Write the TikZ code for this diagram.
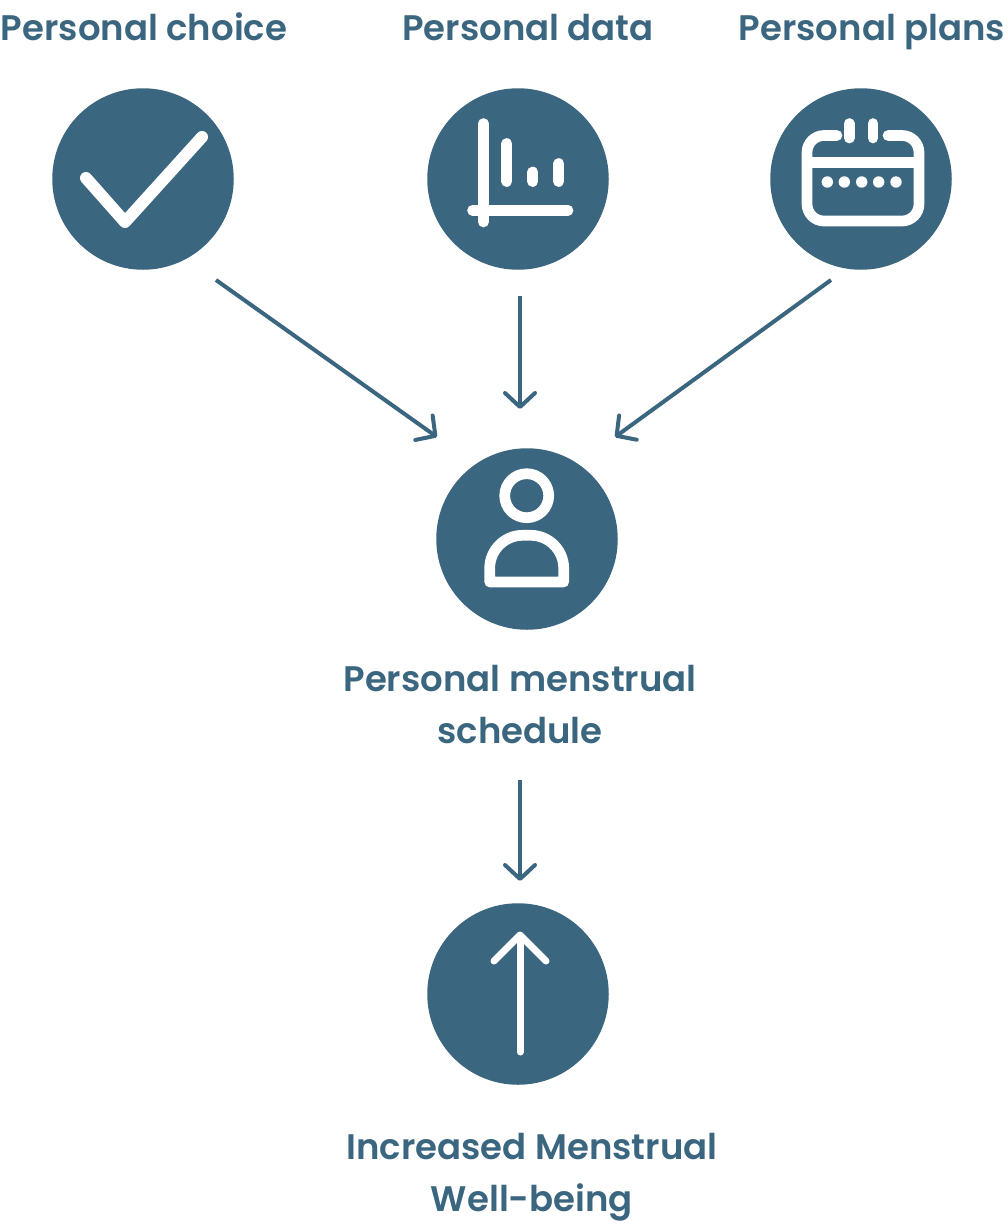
\documentclass[tikz,border=0pt]{standalone}
\usepackage{fontspec}
\setmainfont{Poppins SemiBold}
\usetikzlibrary{arrows.meta}
\definecolor{teal}{HTML}{3B667F}
\tikzset{
  disc/.style={circle,fill=teal,draw=none,minimum size=181.5pt,inner sep=0pt},
  lab/.style={text=teal,font=\fontsize{35.5}{52}\selectfont,inner sep=0pt,align=center},
  conn/.style={draw=teal,line width=4pt,-{Straight Barb[length=14pt,width=30pt,line width=4pt,round]}},
  ico/.style={draw=white,line cap=round,line join=round,line width=10.7pt},
}
\begin{document}
\begin{tikzpicture}[x=1pt,y=-1pt]
\useasboundingbox (0,0) rectangle (1008,1224);
\node[lab,anchor=base] (tchoice) at (144,40) {Personal choice};
\node[lab,anchor=base] (tdata) at (528,40) {Personal data};
\node[lab,anchor=base] (tplans) at (872,40) {Personal plans};
\node[disc] (choice) at (143,179) {};
\node[disc] (data) at (518,179) {};
\node[disc] (plans) at (861,179) {};
\node[disc] (person) at (527,539) {};
\node[disc] (up) at (518,994) {};
\node[lab] (tperson) at (520,705) {Personal menstrual\\schedule};
\node[lab] (tup) at (532,1177) {Increased Menstrual\\Well-being};
% free ends of connectors
\coordinate (a1) at (216,280); \coordinate (a2) at (437,437);
\coordinate (b1) at (520,296); \coordinate (b2) at (520,409);
\coordinate (c1) at (831,280); \coordinate (c2) at (615,437);
\coordinate (d1) at (520,780); \coordinate (d2) at (520,881);
\draw[conn] (a1) -- (a2);
\draw[conn] (b1) -- (b2);
\draw[conn] (c1) -- (c2);
\draw[conn] (d1) -- (d2);
% check icon
\draw[ico,line width=12pt] (86,178) -- (125,222) -- (202,137);
% chart icon
\draw[ico] (483.5,123.5) -- (483.5,222);
\draw[ico] (472.5,210.3) -- (568,210.3);
\draw[ico] (506.7,143.5) -- (506.7,181.5);
\draw[ico] (532.7,172) -- (532.7,181.5);
\draw[ico] (558.7,163.5) -- (558.7,181.5);
% calendar icon
\draw[ico,rounded corners=17pt] (837,135.5) -- (807,135.5) -- (807,221) -- (919,221) -- (919,135.5) -- (888,135.5);
\draw[ico,line cap=butt] (807,162.7) -- (919,162.7);
\draw[ico] (849.3,123.5) -- (849.3,138);
\draw[ico] (873,123.5) -- (873,138);
\foreach \x in {827.3,844.3,861.7,878.7,896}
  \fill[white] (\x,182) circle[radius=5.7];
% person icon
\draw[ico] (526.7,495.7) circle[radius=22];
\draw[ico] (489.7,582) -- (489.7,568) [rounded corners=33pt] -- (489.7,535.3) -- (563.7,535.3) [sharp corners] -- (563.7,582) -- cycle;
% up arrow icon
\draw[ico,line width=7pt] (520,1052) -- (520,936);
\draw[ico,line width=7pt] (494,961) -- (520,935) -- (546,961);
\end{tikzpicture}
\end{document}
